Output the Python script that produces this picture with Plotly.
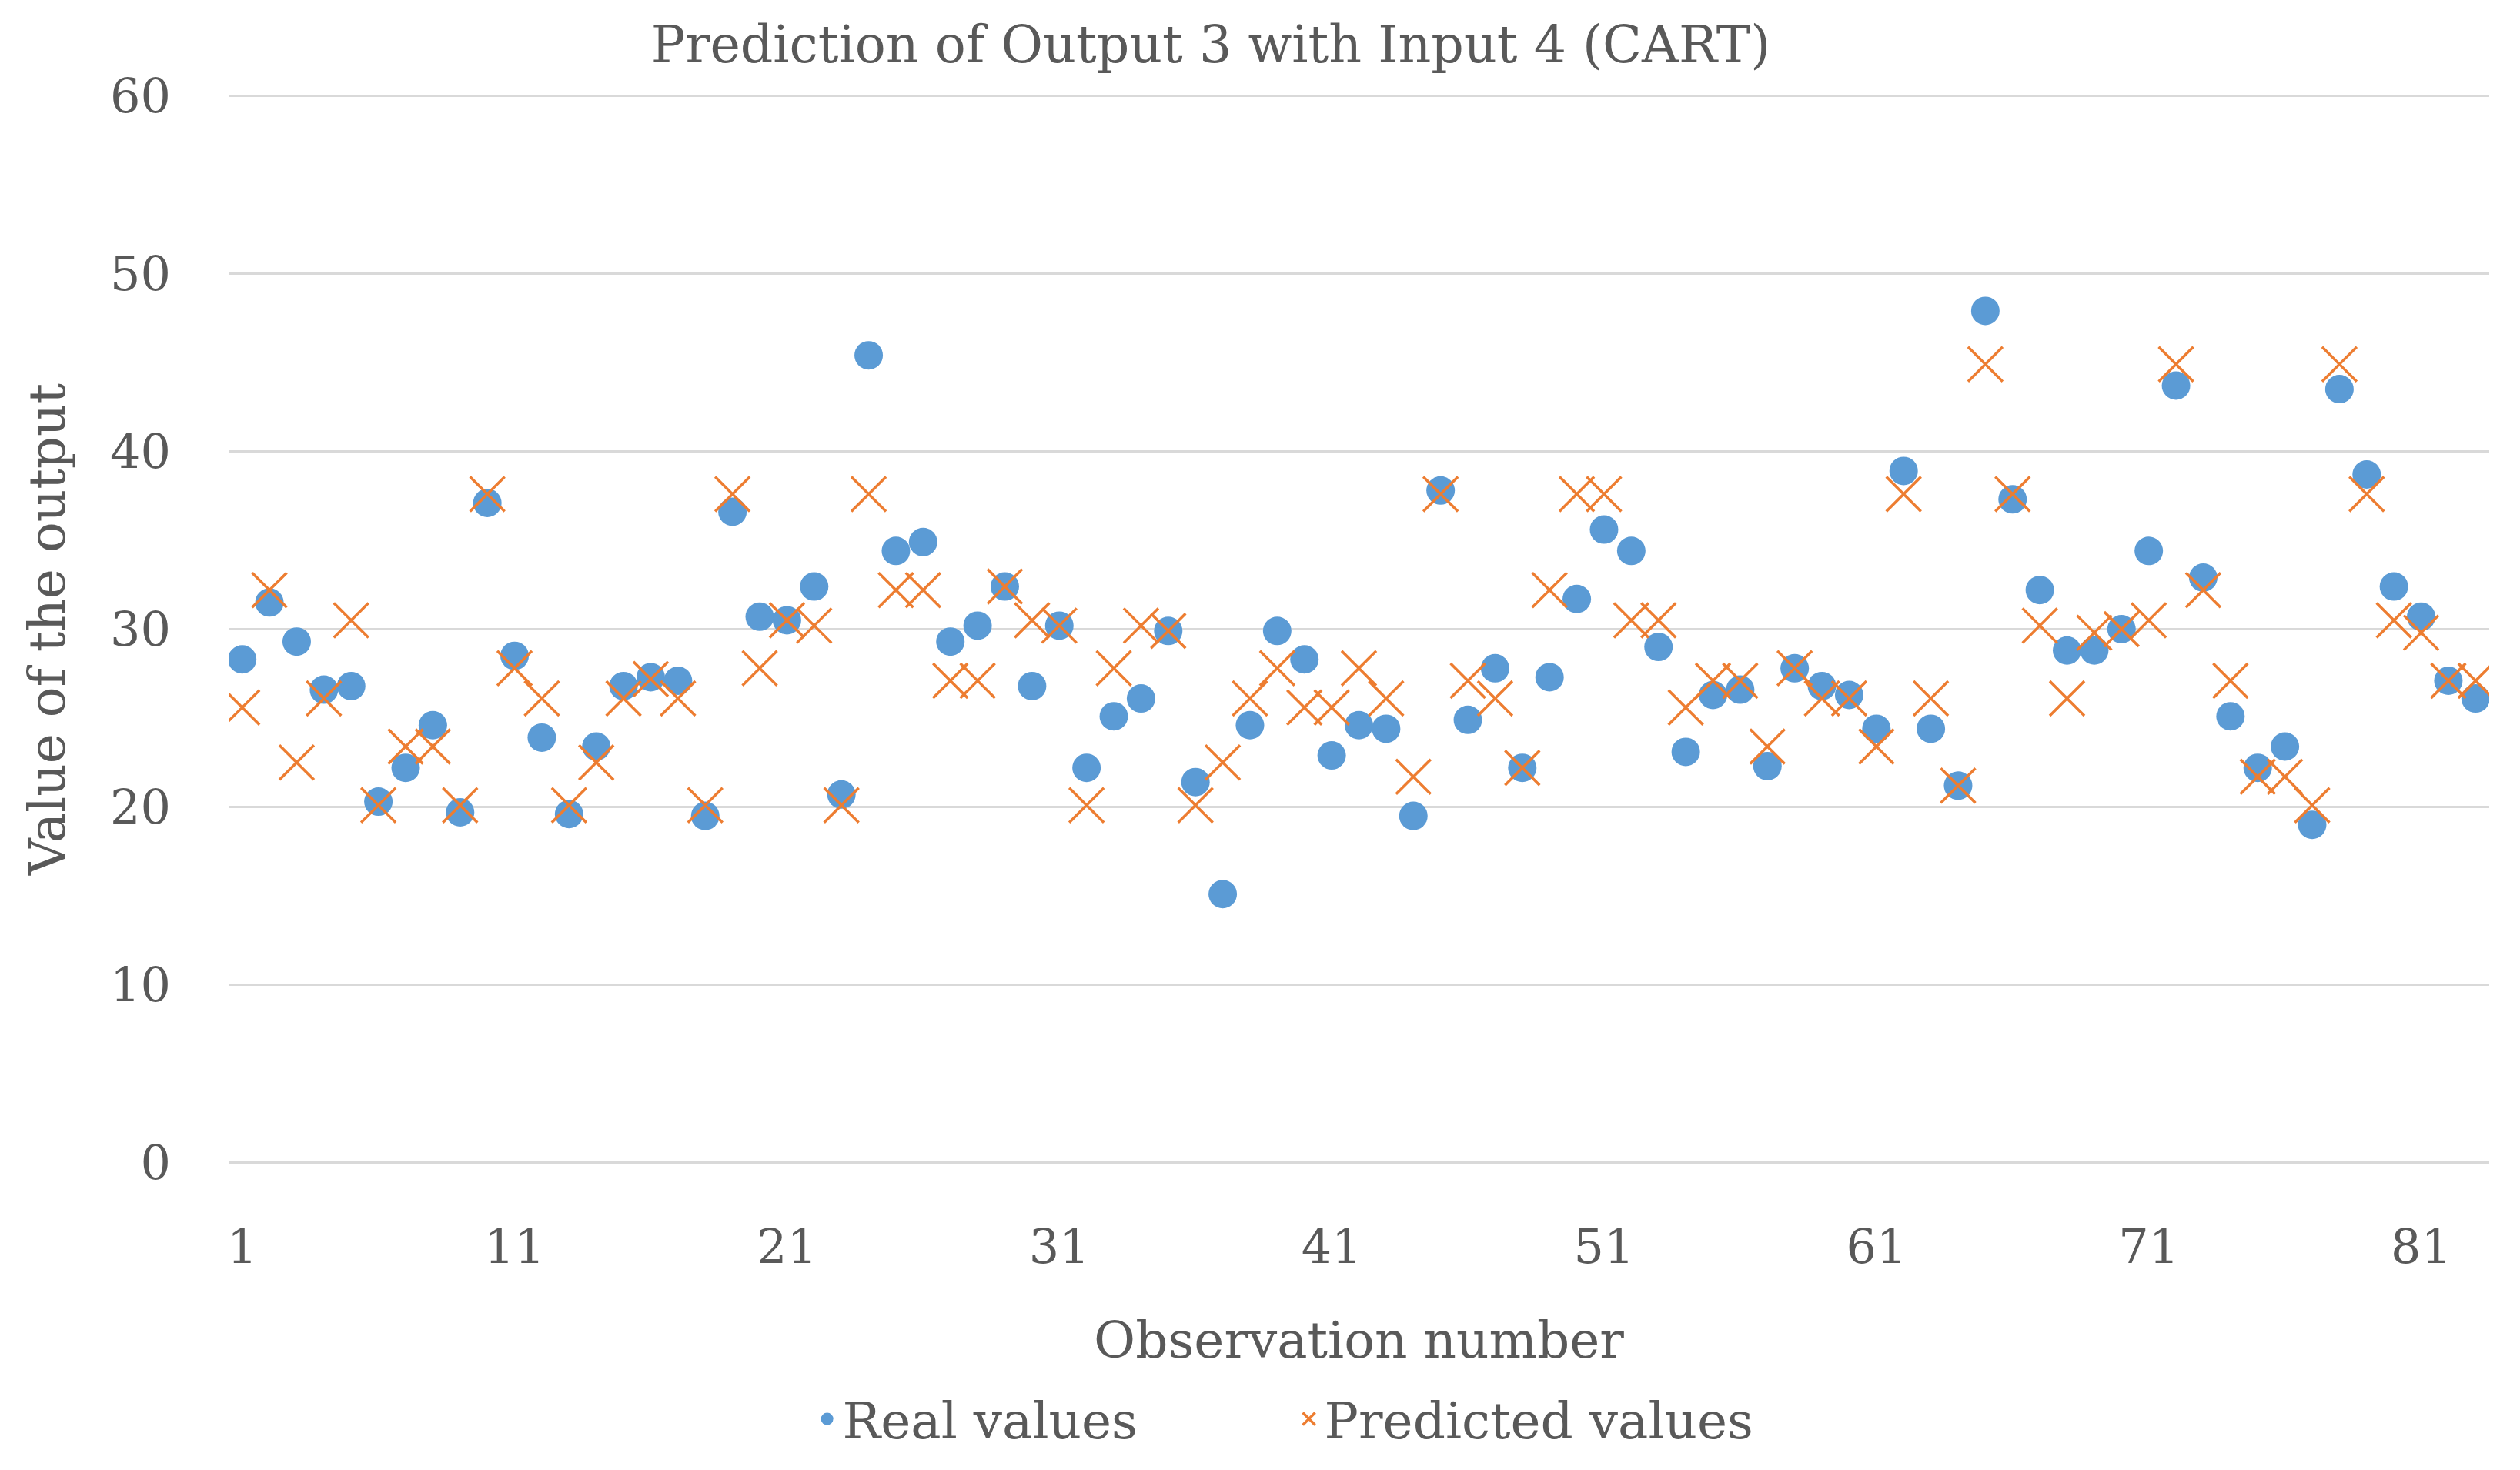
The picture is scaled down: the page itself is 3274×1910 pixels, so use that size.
import plotly.graph_objects as go

observations = list(range(1, 84))

real_values = [
    28.3, 31.5, 29.3, 26.6, 26.8, 20.3, 22.2, 24.6, 19.7, 37.1,
    28.5, 23.9, 19.6, 23.4, 26.8, 27.3, 27.1, 19.5, 36.6, 30.7,
    30.5, 32.4, 20.7, 45.4, 34.4, 34.9, 29.3, 30.2, 32.4, 26.8,
    30.2, 22.2, 25.1, 26.1, 29.9, 21.4, 15.1, 24.6, 29.9, 28.3,
    22.9, 24.6, 24.4, 19.5, 37.8, 24.9, 27.8, 22.2, 27.3, 31.7,
    35.6, 34.4, 29.0, 23.1, 26.3, 26.6, 22.3, 27.8, 26.8, 26.3,
    24.4, 38.9, 24.4, 21.2, 47.9, 37.3, 32.2, 28.8, 28.8, 30.0,
    34.4, 43.7, 32.9, 25.1, 22.2, 23.4, 19.0, 43.5, 38.7, 32.4,
    30.7, 27.1, 26.1,
]

predicted_values = [
    25.6, 32.2, 22.5, 26.1, 30.5, 20.1, 23.4, 23.4, 20.1, 37.6,
    27.8, 26.1, 20.1, 22.5, 26.1, 27.2, 26.1, 20.1, 37.6, 27.8,
    30.5, 30.2, 20.1, 37.6, 32.2, 32.2, 27.1, 27.1, 32.4, 30.5,
    30.2, 20.1, 27.8, 30.2, 29.9, 20.1, 22.5, 26.1, 27.8, 25.6,
    25.6, 27.8, 26.1, 21.7, 37.6, 27.1, 26.1, 22.2, 32.2, 37.6,
    37.6, 30.5, 30.5, 25.6, 27.1, 27.1, 23.4, 27.8, 26.1, 26.1,
    23.4, 37.6, 26.1, 21.2, 44.9, 37.6, 30.2, 26.1, 29.8, 30.0,
    30.5, 44.9, 32.2, 27.1, 21.7, 21.7, 20.1, 44.9, 37.6, 30.5,
    29.8, 27.1, 27.1,
]

x_tick_values = [1, 11, 21, 31, 41, 51, 61, 71, 81]
y_tick_values = [0, 10, 20, 30, 40, 50, 60]

FONT = "Palatino Linotype, Book Antiqua, Palatino, DejaVu Serif, serif"
TEXT = "#595959"

# page body has an 8px default margin, so the figure is 8px smaller than the window
W, H = 3266, 1902

fig = go.Figure()
fig.add_trace(go.Scatter(
    x=observations, y=real_values, mode="markers", name="Real values",
    marker=dict(symbol="circle", size=37, color="#5B9BD5", line=dict(width=0)),
))
fig.add_trace(go.Scatter(
    x=observations, y=predicted_values, mode="markers", name="Predicted values",
    marker=dict(symbol="x-thin", size=45, color="#ED7D31",
                line=dict(width=3.5, color="#ED7D31")),
))

fig.update_layout(
    width=W, height=H,
    paper_bgcolor="white", plot_bgcolor="white",
    margin=dict(l=289, r=40, t=115, b=398, autoexpand=False),
    font=dict(family=FONT, size=62, color=TEXT),
    title=dict(text="Prediction of Output 3 with Input 4 (CART)",
               x=1565 / W, xanchor="center", xref="container",
               y=1 - 50 / H, yanchor="middle", yref="container",
               font=dict(family=FONT, size=66.5, color=TEXT)),
    showlegend=True,
    legend=dict(orientation="h", x=0.4711, xanchor="center",
                y=-0.2388, yanchor="middle",
                font=dict(family=FONT, size=66, color=TEXT),
                entrywidth=581, entrywidthmode="pixels",
                itemsizing="trace", bgcolor="rgba(0,0,0,0)"),
    xaxis=dict(
        range=[0.5, 83.5], tickmode="array", tickvals=x_tick_values,
        ticktext=[str(v) for v in x_tick_values],
        showgrid=False, zeroline=False, showline=False, ticks="",
        ticklabelstandoff=66, automargin=False,
        tickfont=dict(family=FONT, size=62, color=TEXT),
        title=dict(text="Observation number", standoff=62,
                   font=dict(family=FONT, size=66, color=TEXT)),
    ),
    yaxis=dict(
        range=[-0.06, 60.06], tickmode="array", tickvals=y_tick_values,
        showgrid=True, gridcolor="#D9D9D9", gridwidth=3,
        zeroline=False, showline=False, ticks="",
        ticklabelstandoff=74, automargin=False,
        tickfont=dict(family=FONT, size=62, color=TEXT),
        title=dict(text="Value of the output", standoff=36,
                   font=dict(family=FONT, size=66, color=TEXT)),
    ),
)

fig.write_html("out.html")
